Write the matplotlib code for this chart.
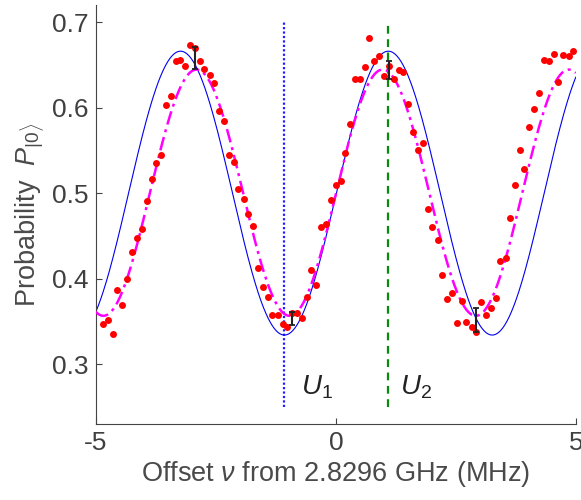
import numpy as np
import matplotlib
matplotlib.use("Agg")
import matplotlib.pyplot as plt

plt.rcParams['font.family'] = ['Liberation Sans', 'DejaVu Sans']
plt.rcParams['mathtext.fontset'] = 'custom'
plt.rcParams['mathtext.rm'] = 'Liberation Sans'
plt.rcParams['mathtext.it'] = 'Liberation Sans:italic'

# ---- measured data (offset in MHz, probability) ----
data_x = [-4.85, -4.75, -4.65, -4.55, -4.45, -4.35, -4.24, -4.14, -4.04, -3.94,
          -3.84, -3.74, -3.64, -3.54, -3.44, -3.33, -3.24, -3.14, -3.035, -2.93,
          -2.83, -2.74, -2.625, -2.53, -2.43, -2.33, -2.22, -2.125, -2.03, -1.92,
          -1.82, -1.73, -1.62, -1.52, -1.42, -1.32, -1.215, -1.11, -1.01, -0.91,
          -0.81, -0.71, -0.61, -0.51, -0.41, -0.31, -0.21, -0.10, 0.0, 0.10,
          0.19, 0.30, 0.40, 0.50, 0.60, 0.70, 0.80, 0.90, 1.01, 1.10,
          1.21, 1.31, 1.41, 1.51, 1.61, 1.71, 1.81, 1.92, 2.01, 2.12,
          2.22, 2.32, 2.42, 2.52, 2.625, 2.72, 2.83, 2.92, 3.03, 3.125,
          3.23, 3.33, 3.43, 3.54, 3.63, 3.73, 3.83, 3.93, 4.03, 4.13,
          4.24, 4.34, 4.44, 4.54, 4.64, 4.74, 4.85, 4.94]
data_y = [0.347, 0.352, 0.335, 0.387, 0.369, 0.400, 0.431, 0.447, 0.458, 0.491,
          0.517, 0.535, 0.544, 0.603, 0.614, 0.654, 0.656, 0.649, 0.673, 0.670,
          0.655, 0.645, 0.638, 0.629, 0.596, 0.584, 0.544, 0.536, 0.505, 0.493,
          0.476, 0.462, 0.412, 0.390, 0.378, 0.357, 0.357, 0.347, 0.343, 0.360,
          0.360, 0.354, 0.378, 0.410, 0.393, 0.460, 0.464, 0.4925, 0.509, 0.514,
          0.547, 0.581, 0.634, 0.633, 0.647, 0.681, 0.654, 0.660, 0.637, 0.649,
          0.633, 0.644, 0.642, 0.604, 0.572, 0.550, 0.559, 0.481, 0.460, 0.445,
          0.404, 0.376, 0.383, 0.348, 0.374, 0.349, 0.344, 0.3375, 0.373, 0.358,
          0.3655, 0.377, 0.421, 0.424, 0.471, 0.509, 0.551, 0.528, 0.577, 0.598,
          0.617, 0.656, 0.655, 0.663, 0.630, 0.661, 0.660, 0.666]

# error bars
err_x = [-2.93, -0.91, 1.10, 2.92]
err_y = [0.658, 0.353, 0.644, 0.352]
err_e = [0.013, 0.0074, 0.0107, 0.014]

# model curves: mean, amplitude, period (MHz), position of a maximum (MHz)
theory_params = (0.500, 0.166, 4.33, 1.094)    # blue solid
fit_params = (0.5005, 0.144, 3.88, -2.903)     # magenta dash-dot

# gate markers
u1_x = -1.08
u2_x = 1.09
vline_ymin, vline_ymax = 0.25, 0.70

xs = np.linspace(-5, 5, 600)
def model(p, x):
    m, a, per, x0 = p
    return m + a * np.cos(2 * np.pi * (x - x0) / per)

fig = plt.figure(figsize=(5.81, 5.0), dpi=100)
ax = fig.add_axes([0.165, 0.152, 0.826, 0.838])

ax.plot([u1_x, u1_x], [vline_ymin, vline_ymax], color='#1f1fff', lw=1.6,
        linestyle=(0, (1, 1)), zorder=1)
ax.plot([u2_x, u2_x], [vline_ymin, vline_ymax], color='#0a8a0a', lw=1.6,
        linestyle=(0, (3.5, 2.5)), zorder=1)

ax.plot(xs, model(theory_params, xs), color='#0000ee', lw=0.8, zorder=2)
ax.plot(xs, model(fit_params, xs), color='#ff00ff', lw=1.8,
        linestyle=(0, (5.5, 2, 1.2, 2)), zorder=3)
ax.plot(data_x, data_y, 'o', color='#ff0000', ms=5.0, mec='none', zorder=4)
ax.errorbar(err_x, err_y, yerr=err_e, fmt='none', ecolor='#222222',
            elinewidth=1.5, capsize=2.2, capthick=1.3, zorder=5)

ax.text(-0.72, 0.265, r'$U_1$', fontsize=20, color='#222222')
ax.text(1.33, 0.265, r'$U_2$', fontsize=20, color='#222222')

ax.set_xlim(-5, 5)
ax.set_ylim(0.23, 0.72)
ax.set_xticks([-5, 0, 5])
ax.set_xticklabels(['-5', '0', '5'])
ax.set_yticks([0.3, 0.4, 0.5, 0.6, 0.7])
for s in ['top', 'right']:
    ax.spines[s].set_visible(False)
for s in ['left', 'bottom']:
    ax.spines[s].set_color('#444444')
    ax.spines[s].set_linewidth(0.8)
ax.tick_params(direction='in', length=4, width=0.8, colors='#444444',
               labelsize=19, labelcolor='#404040', pad=5)
ax.set_xlabel(r'Offset $\nu$ from 2.8296 GHz (MHz)', fontsize=19.5,
              color='#4a4a4a', labelpad=3)
ax.set_ylabel(r'Probability  $P_{|0\rangle}$', fontsize=19.5,
              color='#4a4a4a', labelpad=4)

fig.savefig('out.png', dpi=100)
